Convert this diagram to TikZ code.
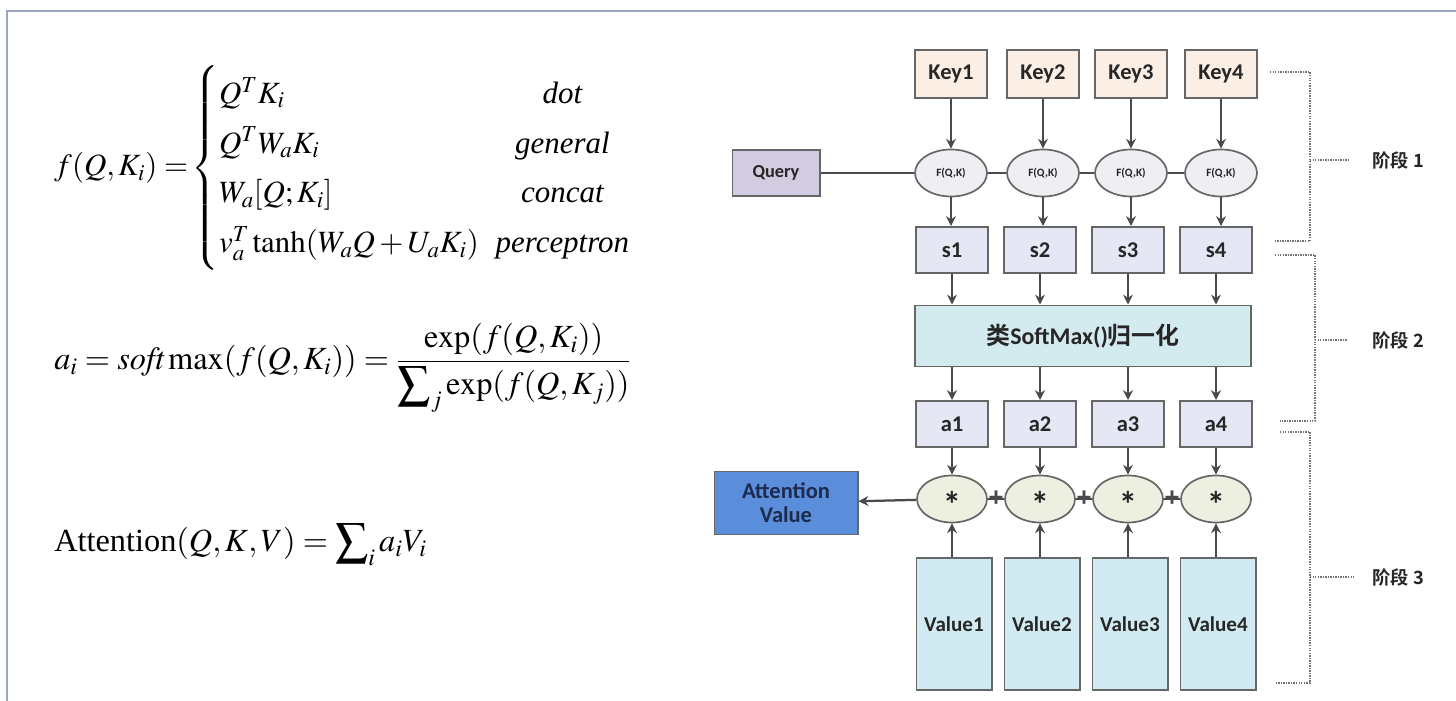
\documentclass[tikz,border=0pt]{standalone}
\usepackage{amsmath}
\usepackage{mathptmx}
\usepackage[no-math]{fontspec}
\setmainfont{Liberation Serif}
\newfontfamily\boxfont{Carlito}
\newfontfamily\cjk{Noto Sans CJK SC}[BoldFont={Noto Sans CJK SC Bold}]
\usetikzlibrary{shapes.geometric,arrows.meta,positioning}

\definecolor{keyfill}{HTML}{FBEFE5}
\definecolor{fqfill}{HTML}{EEEEF3}
\definecolor{queryfill}{HTML}{D3CBE0}
\definecolor{sfill}{HTML}{E5E8F4}
\definecolor{smfill}{HTML}{D3EBEF}
\definecolor{starfill}{HTML}{EDEFE0}
\definecolor{attfill}{HTML}{5B8EDA}
\definecolor{attext}{HTML}{1C2B4E}
\definecolor{valfill}{HTML}{D2EBF2}
\definecolor{edgec}{HTML}{666666}
\definecolor{arrowc}{HTML}{4A4A4A}
\definecolor{textc}{HTML}{262626}
\definecolor{framec}{HTML}{9AA6C2}

% one pixel of the 1456x701 grid
\newcommand{\pxu}{0.7113pt}

\tikzset{
  box/.style={draw=edgec, line width=1.4pt, inner sep=0pt, text=textc,
    font=\boxfont\bfseries\fontsize{16}{18}\selectfont},
  keybox/.style={box, fill=keyfill, minimum width=72*\pxu, minimum height=48*\pxu},
  sbox/.style={box, fill=sfill, minimum width=72*\pxu, minimum height=46*\pxu},
  valbox/.style={box, fill=valfill, minimum width=75*\pxu, minimum height=132*\pxu,
    font=\boxfont\bfseries\fontsize{15}{18}\selectfont},
  fqell/.style={ellipse, draw=edgec, line width=1.2pt, fill=fqfill, inner sep=0pt,
    minimum width=72*\pxu, minimum height=47*\pxu, text=textc,
    font=\boxfont\bfseries\fontsize{8}{9}\selectfont},
  starell/.style={fqell, fill=starfill, minimum width=70*\pxu,
    font=\boxfont\bfseries\fontsize{26}{26}\selectfont},
  arr/.style={draw=arrowc, line width=1.6pt, -{Stealth[length=7pt,width=7pt]}},
  link/.style={draw=arrowc, line width=1.6pt},
  plus/.style={inner sep=0pt, text=arrowc, font=\boxfont\bfseries\fontsize{20}{20}\selectfont},
  stagebr/.style={draw=gray!90!black, line width=2pt, dash pattern=on 1pt off 0.8pt},
  stagelab/.style={anchor=west, inner sep=0pt, text=textc,
    font=\cjk\bfseries\fontsize{13}{15}\selectfont},
  eqn/.style={inner sep=0pt, font=\fontsize{23}{27}\selectfont}
}

\begin{document}
\begin{tikzpicture}[x=0.025cm, y=-0.025cm]
  \useasboundingbox[fill=white] (0,0) rectangle (1456,701);
  \draw[framec, line width=1.5pt] (7,701) -- (7,11) -- (1456,11);

  % formulas
  \node[eqn, anchor=west, font=\fontsize{22}{26}\selectfont] (fdef) at (54,168)
    {$f(Q,K_i)=\!\left\{\renewcommand{\arraystretch}{1.36}
    \begin{array}{@{}l@{\hspace{12pt}}c@{}}
      Q^T K_i & \textit{dot}\\
      Q^T W_a K_i & \textit{general}\\
      W_a[Q;K_i] & \textit{concat}\\
      v_a^T \tanh(W_a Q + U_a K_i) & \textit{perceptron}
    \end{array}\right.$};
  \node[eqn, anchor=west] (soft) at (54,368)
    {$a_i=\mathit{soft}\max(f(Q,K_i))=\dfrac{\exp(f(Q,K_i))}{\displaystyle\sum\nolimits_j \exp(f(Q,K_j))}$};
  \node[eqn, anchor=base west] (attf) at (54,552)
    {Attention$(Q,K,V)=\displaystyle\sum\nolimits_i a_i V_i$};

  % stage 1
  \node[box, fill=queryfill, minimum width=87*\pxu, minimum height=46*\pxu,
    font=\boxfont\bfseries\fontsize{13}{15}\selectfont] (query) at (776,173) {Query};
  \foreach \i/\x in {1/951,2/1043,3/1131,4/1221}{
    \node[keybox] (key\i) at (\x,74) {Key\i};
    \node[fqell] (fq\i) at (\x,173) {F(Q,K)};
  }
  % stage 2 and 3
  \node[box, fill=smfill, minimum width=335*\pxu, minimum height=61*\pxu,
    font=\boxfont\bfseries\fontsize{17}{19}\selectfont] (sm) at (1083,336)
    {{\cjk 类}SoftMax(){\cjk 归一化}};
  \foreach \i/\x in {1/952,2/1040,3/1128,4/1216}{
    \node[sbox] (s\i) at (\x,250) {s\i};
    \node[sbox] (a\i) at (\x,424) {a\i};
    \node[starell] (m\i) at (\x,499) {\smash{\raisebox{-0.5em}{*}}};
    \node[valbox] (v\i) at (\x+2,624) {Value\i};
  }
  \node[box, fill=attfill, text=attext, minimum width=143*\pxu, minimum height=63*\pxu,
    align=center, font=\boxfont\bfseries\fontsize{16}{17}\selectfont] (att) at (786,503)
    {Attention\\Value};

  % connectors
  \draw[link] (query) -- (fq1);
  \foreach \i in {1,...,4}{
    \draw[arr] (key\i) -- (fq\i);
    \draw[arr] (fq\i.south) -- (fq\i.south |- s\i.north);
    \draw[arr] (s\i) -- (s\i |- sm.north);
    \draw[arr] (sm.south -| a\i) -- (a\i);
    \draw[arr] (a\i) -- (m\i);
    \draw[arr] (v\i.north -| m\i) -- (m\i);
  }
  \foreach \i/\j in {1/2,2/3,3/4}{
    \draw[link] (fq\i) -- (fq\j);
    \draw[link] (m\i) -- node[plus] {+} (m\j);
  }
  \draw[arr] (m1) -- (att);

  % stage brackets
  \coordinate (b1t) at (1310,72);
  \coordinate (b1b) at (1310,241);
  \coordinate (b2t) at (1315,255);
  \coordinate (b2b) at (1315,421);
  \coordinate (b3t) at (1310,432);
  \coordinate (b3b) at (1310,683);
  \node[stagelab] (st1) at (1372,160) {阶段 1};
  \node[stagelab] (st2) at (1372,340) {阶段 2};
  \node[stagelab] (st3) at (1372,577) {阶段 3};
  \draw[stagebr] (1270,72) -- (b1t) -- (b1b) -- (1275,241);
  \draw[stagebr] (b1t |- st1) -- ++(40,0);
  \draw[stagebr] (1275,255) -- (b2t) -- (b2b) -- (1280,421);
  \draw[stagebr] (b2t |- st2) -- ++(32,0);
  \draw[stagebr] (1280,432) -- (b3t) -- (b3b) -- (1275,683);
  \draw[stagebr] (b3t |- st3) -- ++(44,0);
\end{tikzpicture}
\end{document}
